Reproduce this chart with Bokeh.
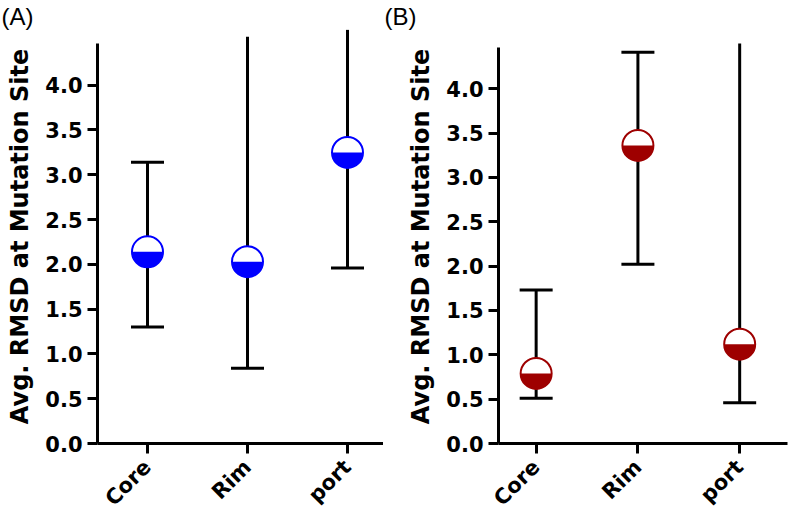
import math
from bokeh.plotting import figure
from bokeh.layouts import row
from bokeh.models import FixedTicker
from bokeh.embed import file_html
from bokeh.resources import INLINE

# ---- data ----
categories = ["Core", "Rim", "port"]
cat_pos = [1, 2, 3]
y_ticks = [0.0, 0.5, 1.0, 1.5, 2.0, 2.5, 3.0, 3.5, 4.0]
y_tick_labels = ["0.0", "0.5", "1.0", "1.5", "2.0", "2.5", "3.0", "3.5", "4.0"]

a_mean = [2.14, 2.03, 3.25]
a_lower = [1.30, 0.84, 1.96]
a_upper = [3.14, 4.54, 4.62]

b_mean = [0.79, 3.36, 1.12]
b_lower = [0.51, 2.02, 0.46]
b_upper = [1.73, 4.41, 4.51]

ylabel = "Avg. RMSD at Mutation Site"

FONT = "DejaVu Sans"
HEIGHT = 521


def make_panel(mean, lower, upper, color, tag, x_range, y_end, axis_top,
               border_left, border_right, border_bottom, width, tag_offset):
    p = figure(width=width, height=HEIGHT, output_backend="svg", toolbar_location=None,
               x_range=x_range, y_range=(0, y_end),
               min_border_left=border_left, min_border_right=border_right,
               min_border_top=29, min_border_bottom=border_bottom)
    p.outline_line_color = None
    p.xgrid.visible = False
    p.ygrid.visible = False
    p.background_fill_color = "white"
    p.border_fill_color = "white"

    # panel tag
    p.title.text = tag
    p.title.align = "left"
    p.title.offset = tag_offset
    p.title.standoff = 0
    p.title.text_font = "Liberation Sans"
    p.title.text_font_style = "normal"
    p.title.text_font_size = "24px"
    p.title.text_color = "black"

    # error bars
    p.segment(x0=cat_pos, y0=lower, x1=cat_pos, y1=upper, line_color="black", line_width=3)
    # caps (only where the whisker end lies inside the axis)
    cap_x = [x for x, u in zip(cat_pos, upper) if u <= axis_top] + cat_pos
    cap_y = [u for u in upper if u <= axis_top] + lower
    p.scatter(cap_x, cap_y, marker="dash", size=33, line_color="black", line_width=3)

    # half-filled circle markers
    p.scatter(cat_pos, mean, marker="circle", size=31, fill_color="white",
              line_color=color, line_width=2)
    p.wedge(x=cat_pos, y=mean, radius=15.5, radius_units="screen",
            start_angle=math.pi, end_angle=2 * math.pi, direction="anticlock",
            fill_color=color, line_color=None)

    # axes
    for ax in (p.xaxis[0], p.yaxis[0]):
        ax.axis_line_width = 3
        ax.axis_line_color = "black"
        ax.major_tick_line_width = 3
        ax.major_tick_in = 0
        ax.major_tick_out = 10
        ax.minor_tick_line_color = None
        ax.major_label_text_font = FONT
        ax.major_label_text_font_style = "bold"
        ax.major_label_text_font_size = "21px"
        ax.major_label_text_color = "black"

    p.yaxis.ticker = FixedTicker(ticks=y_ticks)
    p.yaxis.major_label_overrides = {t: l for t, l in zip(y_ticks, y_tick_labels)}
    p.yaxis.bounds = (0, axis_top)
    p.yaxis.major_label_standoff = 5
    p.yaxis.axis_label = ylabel
    p.yaxis.axis_label_text_font = FONT
    p.yaxis.axis_label_text_font_style = "bold"
    p.yaxis.axis_label_text_font_size = "24px"
    p.yaxis.axis_label_text_color = "black"
    p.yaxis.axis_label_standoff = 8

    p.xaxis.ticker = FixedTicker(ticks=cat_pos)
    p.xaxis.major_label_overrides = {x: c for x, c in zip(cat_pos, categories)}
    p.xaxis.major_label_orientation = math.pi / 4
    p.xaxis.major_label_standoff = 10
    return p


pa = make_panel(a_mean, a_lower, a_upper, "#0000FF", "(A)", (0.5, 3.36), 4.622, 4.47,
                97, 0, 76, 383, -96)
pb = make_panel(b_mean, b_lower, b_upper, "#9E0000", "(B)", (0.63, 3.47), 4.667, 4.46,
                115, 3, 72, 407, -114)

layout = row(pa, pb)
open("out.html", "w").write(file_html(layout, INLINE))
